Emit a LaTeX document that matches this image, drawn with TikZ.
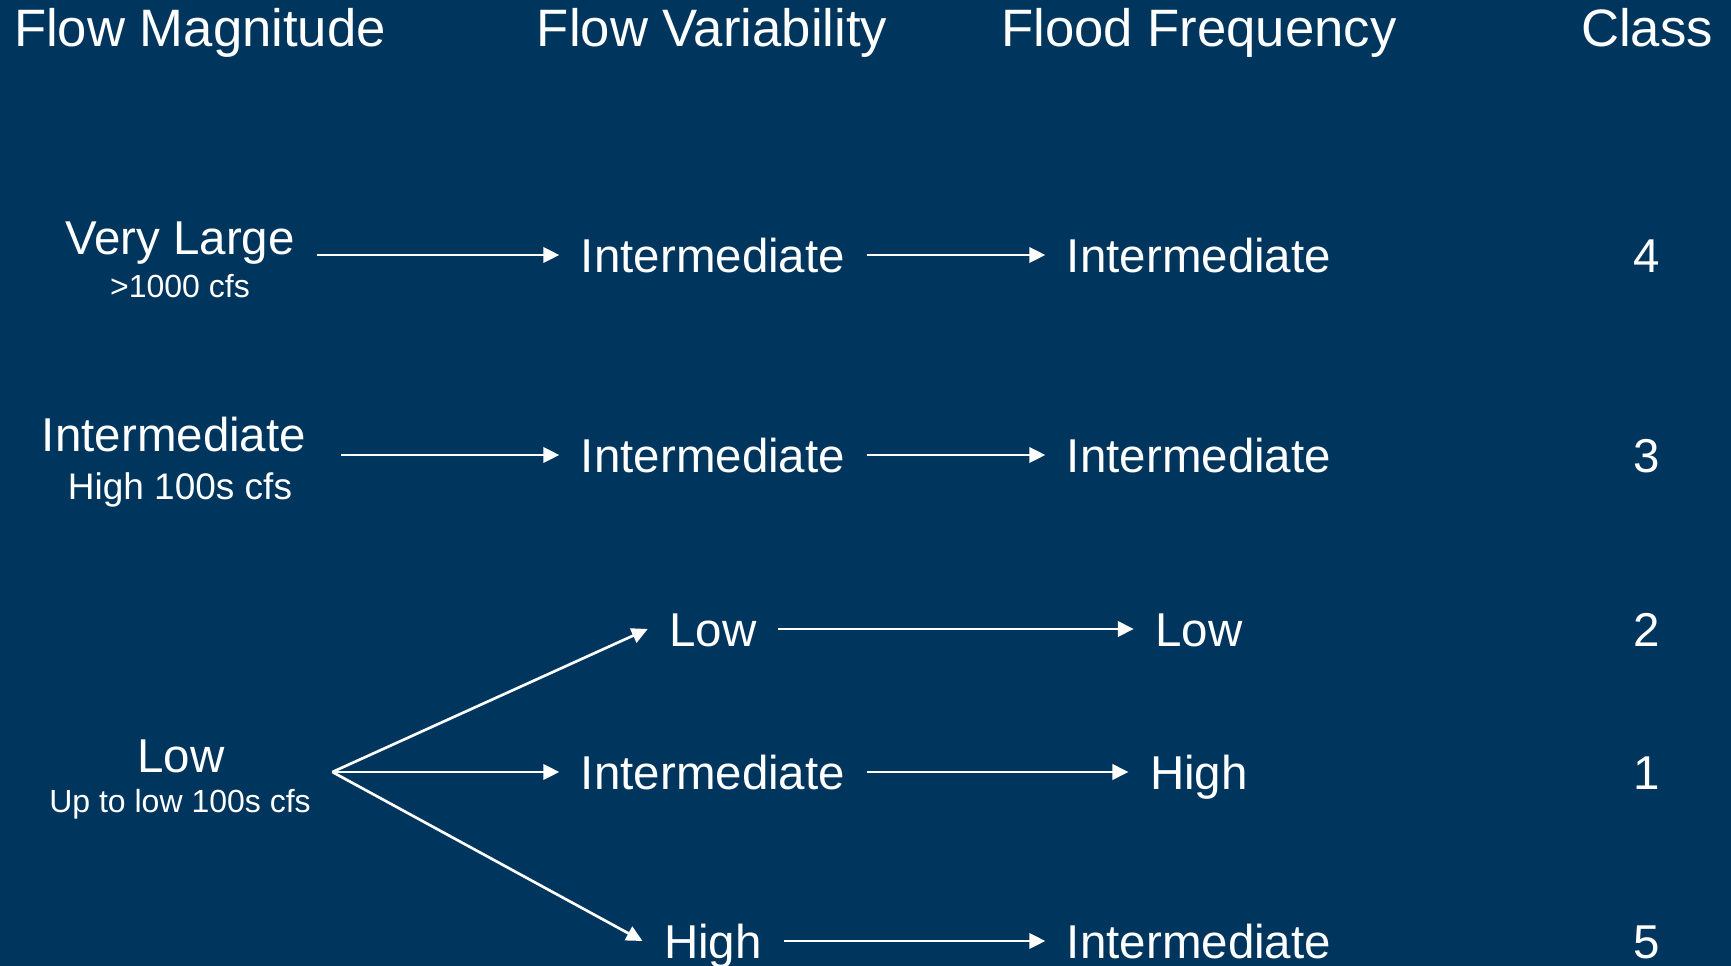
\documentclass[tikz,border=0pt]{standalone}
\usepackage{fontspec}
\setmainfont{Liberation Sans}
\usetikzlibrary{arrows.meta}
\definecolor{navy}{RGB}{0,54,94}

\begin{document}
\begin{tikzpicture}[x=0.3pt, y=-0.3pt,
  hdr/.style={text=white, inner sep=0pt, font=\fontsize{15.8}{18}\selectfont,
    text height=11.3pt, text depth=0pt},
  lbl/.style={text=white, inner xsep=6.3pt, inner ysep=0pt,
    font=\fontsize{14.25}{17}\selectfont, text height=10.2pt, text depth=0pt},
  qty/.style={text=white, inner xsep=6.3pt, inner ysep=0pt,
    font=\fontsize{9.6}{11}\selectfont, text height=6.9pt, text depth=0pt},
  flow/.style={-{Triangle[length=4.8pt,width=4.6pt]}, white, line width=0.8pt}]

% Fons
\path[use as bounding box, fill=navy] (0,0) rectangle (1731,966);

% Capcaleres
\node[hdr] (hmag) at (200,28) {Flow Magnitude};
\node[hdr] (hvar) at (712,28) {Flow Variability};
\node[hdr] (hfreq) at (1199,28) {Flood Frequency};
\node[hdr] (hcls) at (1647,28) {Class};

% Magnitud
\node[lbl] (mvl) at (180,237) {Very Large};
\node[qty] (mvlq) at (180,286) {>1000 cfs};
\node[lbl] (mint) at (174,435) {Intermediate};
\node[qty, font=\fontsize{11.1}{13}\selectfont, text height=7.9pt]
  (mintq) at (180,486) {High 100s cfs};
\node[lbl] (mlow) at (181,755) {Low};
\node[qty] (mlowq) at (180,801) {Up to low 100s cfs};

% Variabilitat
\node[lbl] (v1) at (713,255) {Intermediate};
\node[lbl] (v2) at (713,455) {Intermediate};
\node[lbl] (v3) at (713,629) {Low};
\node[lbl] (v4) at (713,772) {Intermediate};
\node[lbl] (v5) at (713,941) {High};

% Frequencia
\node[lbl] (f1) at (1199,255) {Intermediate};
\node[lbl] (f2) at (1199,455) {Intermediate};
\node[lbl] (f3) at (1199,629) {Low};
\node[lbl] (f4) at (1199,772) {High};
\node[lbl] (f5) at (1199,941) {Intermediate};

% Classe
\node[lbl] (c1) at (1647,255) {4};
\node[lbl] (c2) at (1647,455) {3};
\node[lbl] (c3) at (1647,629) {2};
\node[lbl] (c4) at (1647,772) {1};
\node[lbl] (c5) at (1647,941) {5};

% Fletxes
\draw[flow] (mvl.east |- v1) -- (v1);
\draw[flow, shorten <=4pt] (mint.east |- v2) -- (v2);
\coordinate (fan) at (mlowq.east |- v4);
\draw[flow] (fan) -- (v3.west);
\draw[flow] (fan) -- (v4);
\draw[flow] (fan) -- (v5.west);

\draw[flow] (v1) -- (f1);
\draw[flow] (v2) -- (f2);
\draw[flow] (v3) -- (f3);
\draw[flow] (v4) -- (f4);
\draw[flow] (v5) -- (f5);

\end{tikzpicture}
\end{document}
